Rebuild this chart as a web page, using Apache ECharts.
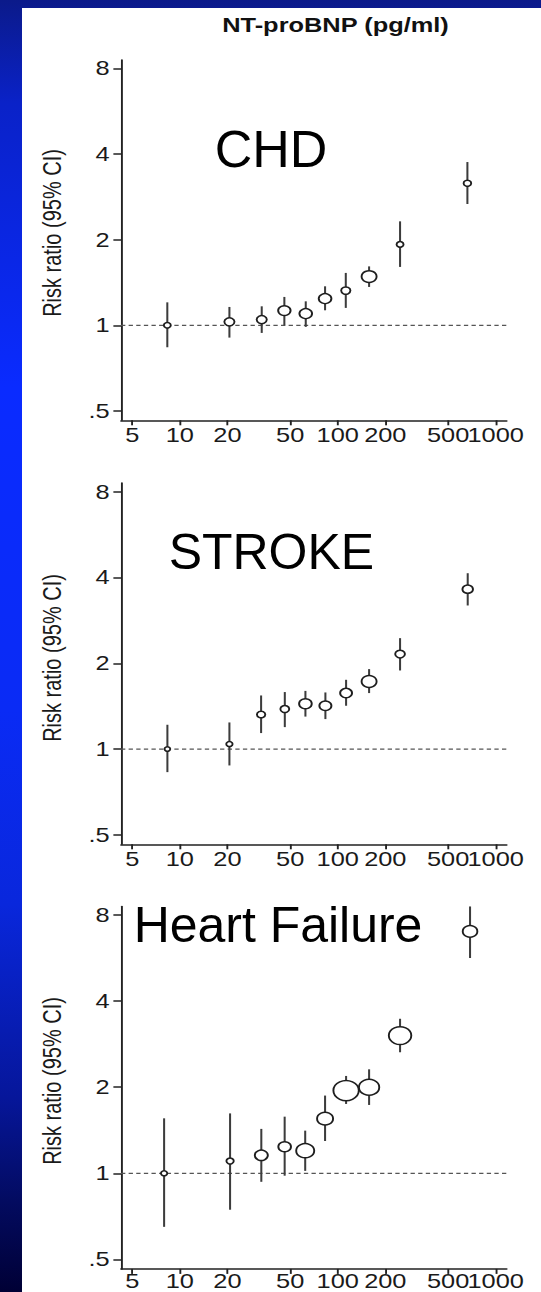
<!DOCTYPE html>
<html>
<head>
<meta charset="utf-8">
<script src="https://cdn.jsdelivr.net/npm/echarts@6/dist/echarts.min.js"></script>
<style>
html,body{margin:0;padding:0;width:541px;height:1292px;overflow:hidden;
  background:linear-gradient(to bottom,#0b1a8a 0%,#0a22c8 8%,#0a2bff 30%,#0a2bf5 55%,#0927dc 70%,#06169a 85%,#030b60 93%,#000035 100%);}
#panel{position:absolute;left:22px;top:8px;right:0;bottom:0;background:#fff;}
#chart{position:absolute;left:0;top:0;width:426px;height:1292px;transform:scaleX(1.269953);transform-origin:0 0;}
</style>
</head>
<body>
<div id="panel"></div>
<div id="chart"></div>
<script>
// ---------------- data ----------------
const xTickValues = [5, 10, 20, 50, 100, 200, 500, 1000];
const xTickLabels = ['5', '10', '20', '50', '100', '200', '500', '1000'];
const yTickValues = [0.5, 1, 2, 4, 8];
const yTickLabels = ['.5', '1', '2', '4', '8'];
const panelLabels = ['CHD', 'STROKE', 'Heart Failure'];
const xAxisTitle = 'NT-proBNP (pg/ml)';
const yAxisTitle = 'Risk ratio (95% CI)';

// CHD
const chdBnp = [8.33, 20.6, 33.0, 45.9, 62.7, 83.1, 112.4, 157.9, 248, 662];
const chdRR  = [1.0, 1.028, 1.047, 1.126, 1.099, 1.241, 1.324, 1.483, 1.925, 3.16];
const chdLo  = [0.837, 0.905, 0.94, 1.0, 0.987, 1.129, 1.151, 1.364, 1.604, 2.67];
const chdHi  = [1.204, 1.16, 1.166, 1.258, 1.214, 1.371, 1.528, 1.611, 2.32, 3.75];
const chdWeight = [5.5, 8, 8, 9.8, 10, 10, 7.3, 11.8, 5.5, 6];

// STROKE
const strokeBnp = [8.34, 20.6, 32.7, 46.2, 62.4, 83.5, 112.9, 157.9, 248, 665];
const strokeRR  = [1.0, 1.041, 1.322, 1.382, 1.442, 1.419, 1.572, 1.727, 2.154, 3.64];
const strokeLo  = [0.83, 0.876, 1.138, 1.194, 1.30, 1.274, 1.419, 1.572, 1.887, 3.19];
const strokeHi  = [1.217, 1.24, 1.542, 1.585, 1.6, 1.58, 1.75, 1.908, 2.45, 4.14];
const strokeWeight = [4.5, 5, 6.6, 7, 10, 9.5, 9.4, 11.8, 7.7, 8.3];

// Heart failure
const hfBnp = [7.95, 20.8, 32.8, 46.1, 62.2, 83.1, 112.9, 157.9, 248, 688];
const hfRR  = [1.0, 1.104, 1.156, 1.239, 1.2, 1.553, 1.946, 2.0, 3.03, 7.01];
const hfLo  = [0.65, 0.746, 0.934, 0.981, 1.02, 1.297, 1.748, 1.734, 2.65, 5.66];
const hfHi  = [1.557, 1.62, 1.43, 1.578, 1.41, 1.87, 2.19, 2.31, 3.47, 8.57];
const hfWeight = [5, 5.8, 10.3, 10, 14.2, 12.6, 20, 16, 17.7, 11.5];

// ---------------- layout / style ----------------
const S = 541 / 426;             // horizontal stretch of the original figure
const FONT = "'Liberation Sans', Arial, Helvetica, sans-serif";
const X_MIN = 0.6274, X_MAX = 3.0697;   // log10 range
const Y_MIN = -1.11, Y_MAX = 3.1;       // log2 range
const gridBoxes = [
  { top: 59.9, height: 360.4, yTitle: 233, xMargin: 5, label: { x: 271, y: 148.7, size: 52 } },
  { top: 483.1, height: 361.2, yTitle: 658, xMargin: 5, label: { x: 271.4, y: 552, size: 50 } },
  { top: 906.4, height: 362.5, yTitle: 1081, xMargin: 2, label: { x: 278, y: 925.4, size: 50 } }
];

const panels = [
  { bnp: chdBnp, rr: chdRR, lo: chdLo, hi: chdHi, w: chdWeight },
  { bnp: strokeBnp, rr: strokeRR, lo: strokeLo, hi: strokeHi, w: strokeWeight },
  { bnp: hfBnp, rr: hfRR, lo: hfLo, hi: hfHi, w: hfWeight }
];

const lookup = (vals, labels, fn) => v => {
  const i = vals.findIndex(t => Math.abs(fn(t) - v) < 1e-6);
  return i >= 0 ? labels[i] : '';
};
const xFmt = lookup(xTickValues, xTickLabels, Math.log10);
const yFmt = lookup(yTickValues, yTickLabels, Math.log2);
const xCustom = xTickValues.map(Math.log10);
const yCustom = yTickValues.map(Math.log2);
// the last x label touches its neighbour (as in the original), so it is drawn by a twin axis
const xCustomMain = xCustom.slice(0, -1);
const xCustomLast = xCustom.slice(-1);

const grid = [], xAxis = [], yAxis = [], series = [], graphic = [];
const labelStyle = { fontSize: 20, fontFamily: FONT, color: '#1a1a1a', hideOverlap: false };

gridBoxes.forEach((g, i) => {
  grid.push({ left: 121 / S, width: 385.7 / S, top: g.top, height: g.height,
              containLabel: false, outerBoundsMode: 'none' });
  xAxis.push({
    gridIndex: i, type: 'value', min: X_MIN, max: X_MAX, position: 'bottom',
    axisLine: { show: true, onZero: false, lineStyle: { color: '#222', width: 1.5 } },
    axisTick: { show: true, customValues: xCustom, length: 5, lineStyle: { color: '#222', width: 1.5 } },
    axisLabel: Object.assign({ show: true, customValues: xCustomMain, formatter: xFmt, margin: g.xMargin }, labelStyle),
    splitLine: { show: false }
  });
  yAxis.push({
    gridIndex: i, type: 'value', min: Y_MIN, max: Y_MAX,
    axisLine: { show: true, onZero: false, lineStyle: { color: '#222', width: 1.5 } },
    axisTick: { show: true, customValues: yCustom, length: 6, lineStyle: { color: '#222', width: 1.5 } },
    axisLabel: Object.assign({ show: true, customValues: yCustom, formatter: yFmt, margin: 9,
                               showMinLabel: true, showMaxLabel: true }, labelStyle),
    splitLine: { show: false }
  });
});
// twin x axes carrying the "1000" label
gridBoxes.forEach((g, i) => {
  xAxis.push({
    gridIndex: i, type: 'value', min: X_MIN, max: X_MAX, position: 'bottom', offset: 0,
    axisLine: { show: false, onZero: false }, axisTick: { show: false },
    axisLabel: Object.assign({ show: true, customValues: xCustomLast, formatter: xFmt, margin: g.xMargin,
                               showMinLabel: true, showMaxLabel: true }, labelStyle),
    splitLine: { show: false }
  });
});

gridBoxes.forEach((g, i) => {
  const p = panels[i];
  // reference line at RR = 1
  series.push({
    type: 'line', xAxisIndex: i, yAxisIndex: i, silent: true, symbol: 'none', z: 1,
    data: [[X_MIN, Math.log2(1)], [X_MAX, Math.log2(1)]],
    lineStyle: { color: '#555', width: 1.3, type: [3.4, 2.6] }
  });
  // confidence intervals
  series.push({
    type: 'custom', xAxisIndex: i, yAxisIndex: i, silent: true, z: 2,
    data: p.bnp.map((b, k) => [Math.log10(b), Math.log2(p.lo[k]), Math.log2(p.hi[k])]),
    encode: { x: 0, y: [1, 2] },
    renderItem: (params, api) => {
      const a = api.coord([api.value(0), api.value(1)]);
      const b = api.coord([api.value(0), api.value(2)]);
      return { type: 'line', shape: { x1: a[0], y1: a[1], x2: b[0], y2: b[1] },
               style: { stroke: '#3c3c3c', lineWidth: 1.6 } };
    }
  });
  // point estimates
  series.push({
    type: 'scatter', xAxisIndex: i, yAxisIndex: i, silent: true, z: 3,
    symbol: 'circle',
    data: p.bnp.map((b, k) => [Math.log10(b), Math.log2(p.rr[k]), p.w[k]]),
    symbolSize: v => v[2],
    itemStyle: { color: '#fff', borderColor: '#1e1e1e', borderWidth: 1.5, opacity: 1 }
  });

  graphic.push({
    type: 'text', x: 52.5 / S, y: g.yTitle, rotation: Math.PI / 2, silent: true,
    style: { text: yAxisTitle, font: '20px ' + FONT, fill: '#1a1a1a',
             align: 'center', verticalAlign: 'middle', textAlign: 'center', textVerticalAlign: 'middle' }
  });
  graphic.push({
    type: 'text', x: g.label.x / S, y: g.label.y, scaleX: 1 / S, silent: true,
    style: { text: panelLabels[i], font: g.label.size + 'px ' + FONT, fill: '#000',
             align: 'center', verticalAlign: 'middle', textAlign: 'center', textVerticalAlign: 'middle' }
  });
});

graphic.push({
  type: 'text', x: 335.5 / S, y: 25, silent: true,
  style: { text: xAxisTitle, font: 'bold 20px ' + FONT, fill: '#111',
           align: 'center', verticalAlign: 'middle', textAlign: 'center', textVerticalAlign: 'middle' }
});

const chart = echarts.init(document.getElementById('chart'), null, { renderer: 'svg' });
chart.setOption({
  backgroundColor: 'transparent',
  animation: false,
  textStyle: { fontFamily: FONT },
  grid, xAxis, yAxis, series, graphic
});
</script>
</body>
</html>
